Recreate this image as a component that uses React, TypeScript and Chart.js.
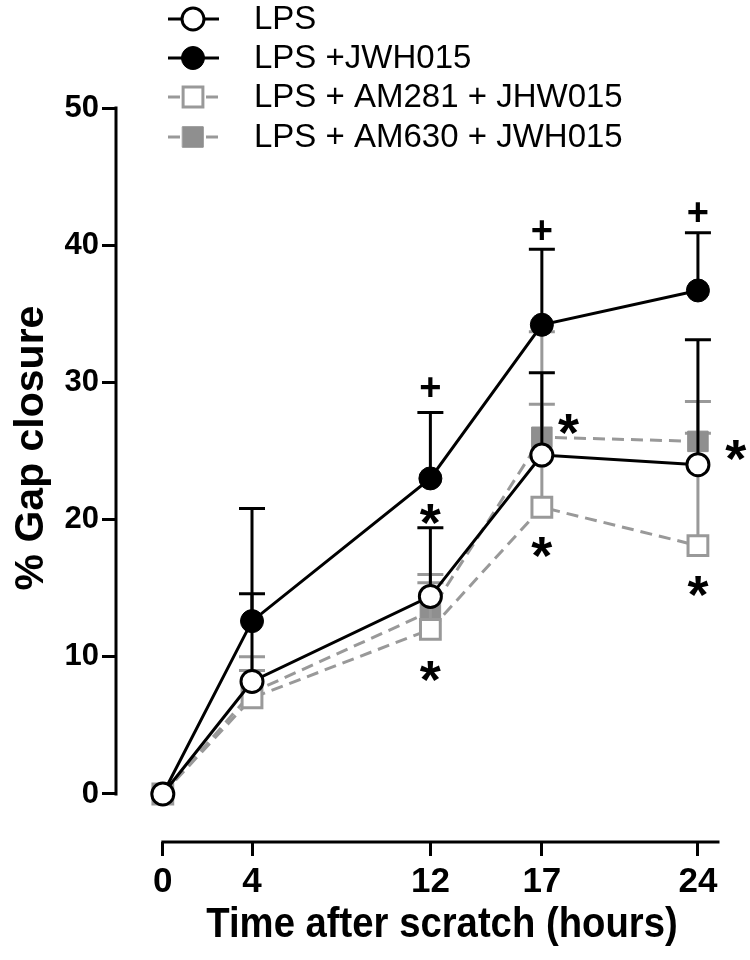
import React, { useEffect, useRef } from 'react';
import { Chart, registerables } from 'chart.js';

Chart.register(...registerables);

// ---- data ----
const hours = [0, 4, 12, 17, 24];
const xTicks = [0, 4, 12, 17, 24];
const yTicks = [0, 10, 20, 30, 40, 50];
const seriesNames = ['LPS', 'LPS +JWH015', 'LPS + AM281 + JHW015', 'LPS + AM630 + JWH015'];
const lps = [0, 8.2, 14.4, 24.7, 24.0];
const lpsErr = [0, 6.4, 5.0, 6.0, 9.1];
const jwh = [0, 12.6, 23.0, 34.2, 36.7];
const jwhErr = [0, 8.2, 4.8, 5.5, 4.2];
const am281 = [0, 7.0, 12.0, 20.9, 18.1];
const am281Err = [0, 2.0, 3.4, 7.5, 10.5];
const am630 = [0, 7.4, 13.3, 26.0, 25.7];
const am630Err = [0, 2.6, 2.7, 7.7, 0.6];
const xTitle = 'Time after scratch (hours)';
const yTitle = '% Gap closure';
// significance marks [x, y, symbol]
const marks: [number, number, string][] = [
  [12, 29.6, '+'],
  [17, 41.1, '+'],
  [24, 42.4, '+'],
  [12, 20.7, '*'],
  [12, 9.3, '*'],
  [18.2, 27.3, '*'],
  [17, 18.3, '*'],
  [25.7, 25.4, '*'],
  [24, 15.5, '*'],
];

const GRAY = '#999999';
const GRAY_FILL = '#8f8f8f';
const BOLD = "'Liberation Sans', Arial, Helvetica, sans-serif";

const errors = [lpsErr, jwhErr, am281Err, am630Err];

const errorBarPlugin = {
  id: 'errorBars',
  beforeDatasetDraw(chart: any, args: any) {
    const i = args.index;
    const ds = chart.data.datasets[i];
    const meta = chart.getDatasetMeta(i);
    const yScale = chart.scales.y;
    const ctx = chart.ctx;
    ctx.save();
    ctx.strokeStyle = ds.borderColor;
    ctx.lineWidth = 3;
    ctx.setLineDash([]);
    meta.data.forEach((pt: any, j: number) => {
      const e = errors[i][j];
      if (!e) return;
      const top = yScale.getPixelForValue(ds.data[j].y + e);
      ctx.beginPath();
      ctx.moveTo(pt.x, pt.y);
      ctx.lineTo(pt.x, top);
      ctx.moveTo(pt.x - 13, top);
      ctx.lineTo(pt.x + 13, top);
      ctx.stroke();
    });
    ctx.restore();
  },
};

function drawMarker(ctx: CanvasRenderingContext2D, ds: any, x: number, y: number) {
  ctx.save();
  ctx.setLineDash([]);
  ctx.lineWidth = ds.pointBorderWidth;
  ctx.strokeStyle = ds.pointBorderColor;
  ctx.fillStyle = ds.pointBackgroundColor;
  const r = ds.pointRadius;
  ctx.beginPath();
  if (ds.pointStyle === 'rect') {
    const s = Math.SQRT1_2 * r;
    ctx.rect(x - s, y - s, 2 * s, 2 * s);
  } else {
    ctx.arc(x, y, r, 0, Math.PI * 2);
  }
  ctx.fill();
  ctx.stroke();
  ctx.restore();
}

const decorPlugin = {
  id: 'decor',
  afterDraw(chart: any) {
    const { ctx, chartArea } = chart;
    const xs = chart.scales.x;
    const ys = chart.scales.y;
    ctx.save();
    // axis lines
    ctx.strokeStyle = '#000';
    ctx.lineWidth = 3;
    ctx.lineCap = 'square';
    ctx.beginPath();
    ctx.moveTo(chartArea.left, ys.getPixelForValue(0));
    ctx.lineTo(chartArea.left, ys.getPixelForValue(50));
    ctx.moveTo(xs.getPixelForValue(0), chartArea.bottom);
    ctx.lineTo(chartArea.right, chartArea.bottom);
    ctx.stroke();

    // significance marks
    ctx.fillStyle = '#000';
    ctx.textAlign = 'center';
    marks.forEach(([mx, my, s]) => {
      const px = xs.getPixelForValue(mx);
      const py = ys.getPixelForValue(my);
      ctx.textBaseline = 'alphabetic';
      if (s === '*') {
        ctx.font = `bold 54px ${BOLD}`;
        ctx.fillText('*', px, py + 0.58 * 54);
      } else {
        ctx.font = `bold 38px ${BOLD}`;
        ctx.fillText('+', px, py + 0.33 * 38);
      }
    });

    // axis titles
    ctx.save();
    ctx.font = `bold 43px ${BOLD}`;
    ctx.textBaseline = 'middle';
    ctx.translate(442, 925);
    ctx.scale(0.89, 1);
    ctx.fillText(xTitle, 0, 0);
    ctx.restore();
    ctx.save();
    ctx.translate(32, 448);
    ctx.rotate(-Math.PI / 2);
    ctx.font = `bold 41px ${BOLD}`;
    ctx.textBaseline = 'middle';
    ctx.fillText(yTitle, 0, 0);
    ctx.restore();

    // legend
    const rows = [19, 58, 97, 137];
    chart.data.datasets.forEach((ds: any, i: number) => {
      const y = rows[i];
      ctx.save();
      ctx.strokeStyle = ds.borderColor;
      ctx.lineWidth = 3;
      ctx.lineCap = 'butt';
      ctx.setLineDash(ds.borderDash || []);
      ctx.beginPath();
      ctx.moveTo(168, y);
      ctx.lineTo(219, y);
      ctx.stroke();
      ctx.restore();
      drawMarker(ctx, ds, 193, y);
      ctx.fillStyle = '#000';
      ctx.font = `33px ${BOLD}`;
      ctx.textAlign = 'left';
      ctx.textBaseline = 'middle';
      ctx.fillText(seriesNames[i], 254, y + 1);
    });
    ctx.restore();
  },
};

const toPts = (vals: number[]) => vals.map((v, i) => ({ x: hours[i], y: v }));

export default function App() {
  const ref = useRef<HTMLCanvasElement>(null);
  useEffect(() => {
    document.body.style.margin = '0';
    const chart = new Chart(ref.current as HTMLCanvasElement, {
      type: 'line',
      data: {
        datasets: [
          {
            label: seriesNames[0], data: toPts(lps),
            borderColor: '#000', borderWidth: 3,
            pointStyle: 'circle', pointRadius: 11, pointBorderWidth: 3,
            pointBorderColor: '#000', pointBackgroundColor: '#fff',
          },
          {
            label: seriesNames[1], data: toPts(jwh),
            borderColor: '#000', borderWidth: 3,
            pointStyle: 'circle', pointRadius: 11.5, pointBorderWidth: 1,
            pointBorderColor: '#000', pointBackgroundColor: '#000',
          },
          {
            label: seriesNames[2], data: toPts(am281),
            borderColor: GRAY, borderWidth: 3, borderDash: [12, 7],
            pointStyle: 'rect', pointRadius: 14, pointBorderWidth: 3,
            pointBorderColor: GRAY, pointBackgroundColor: '#fff',
          },
          {
            label: seriesNames[3], data: toPts(am630),
            borderColor: GRAY, borderWidth: 3, borderDash: [12, 7],
            pointStyle: 'rect', pointRadius: 14.5, pointBorderWidth: 1,
            pointBorderColor: GRAY_FILL, pointBackgroundColor: GRAY_FILL,
          },
        ] as any,
      },
      options: {
        responsive: false,
        animation: false,
        devicePixelRatio: 1,
        layout: { padding: { top: 108, right: 32, bottom: 0, left: 0 } },
        elements: { line: { tension: 0 } },
        plugins: { legend: { display: false }, tooltip: { enabled: false } },
        scales: {
          x: {
            type: 'linear', min: -2.1, max: 24.9,
            afterBuildTicks: (s: any) => { s.ticks = xTicks.map((v) => ({ value: v })); },
            afterFit: (s: any) => { s.height = 118; },
            grid: { display: true, drawOnChartArea: false, drawTicks: true, tickLength: 14, color: '#000', lineWidth: 3 },
            border: { display: false },
            ticks: { color: '#000', font: { family: BOLD, size: 35, weight: 'bold' }, padding: 5, maxRotation: 0, autoSkip: false },
          },
          y: {
            type: 'linear', min: -3.5, max: 50,
            afterBuildTicks: (s: any) => { s.ticks = yTicks.map((v) => ({ value: v })); },
            afterFit: (s: any) => { s.width = 116; },
            grid: { display: true, drawOnChartArea: false, drawTicks: true, tickLength: 14, color: '#000', lineWidth: 3 },
            border: { display: false },
            ticks: { color: '#000', font: { family: BOLD, size: 31, weight: 'bold' }, padding: 3 },
          },
        },
      } as any,
      plugins: [errorBarPlugin, decorPlugin],
    });
    return () => chart.destroy();
  }, []);
  return (
    <div style={{ position: 'fixed', left: 0, top: 0, width: 750, height: 960, background: '#fff' }}>
      <canvas ref={ref} width={750} height={960} />
    </div>
  );
}
